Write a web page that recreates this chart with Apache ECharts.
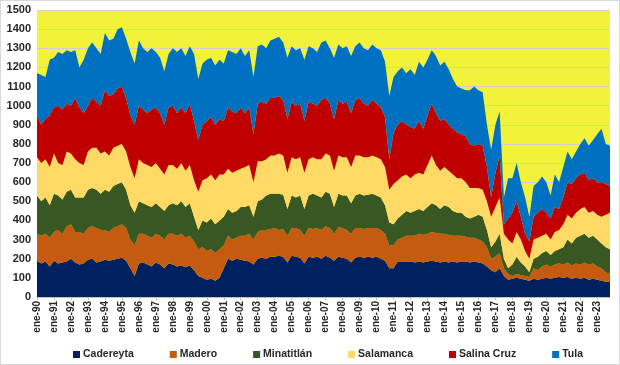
<!DOCTYPE html>
<html><head><meta charset="utf-8">
<script src="https://cdn.jsdelivr.net/npm/echarts@6/dist/echarts.min.js"></script>
<style>
html,body{margin:0;padding:0;background:#fff;}
#c{width:618px;height:363px;border:1px solid #d9d9d9;}
</style></head>
<body><div id="c"></div>
<script>
// quarterly categories: ene, abr, jul, oct of each year 1990-2023
const years = [90,91,92,93,94,95,96,97,98,99,0,1,2,3,4,5,6,7,8,9,10,11,12,13,14,15,16,17,18,19,20,21,22,23];
const months = ['ene','abr','jul','oct'];
const categories = [];
years.forEach(y => months.forEach(m => categories.push(m + '-' + String(y).padStart(2,'0'))));

const seriesNames = ['Cadereyta','Madero','Minatitlán','Salamanca','Salina Cruz','Tula'];

const cadereyta = [
190,175,185,160, 190,175,180,185, 200,180,170,175, 195,200,180,185, 195,190,195,200,
205,190,150,110, 175,180,170,160, 180,170,150,175, 170,160,165,155, 165,140,110,100,
90,95,85,100, 150,200,190,200, 195,190,185,170, 200,205,200,210, 210,215,210,180,
215,210,205,175, 210,205,210,200, 215,205,190,210, 205,200,180,205, 210,205,210,205,
210,200,190,150, 150,185,185,185, 185,180,185,180, 185,190,185,180, 185,180,185,180,
185,185,180,185, 180,175,160,140, 130,150,110,90, 95,100,95,90, 85,95,90,95,
100,95,100,105, 100,105,95,100, 95,100,90,95, 90,85,80,80];

const madero = [
140,145,145,150, 150,175,150,185, 180,160,170,155, 165,170,180,165, 155,150,165,170,
175,170,150,160, 155,150,150,150, 150,150,150,155, 160,160,165,155, 155,150,140,160,
150,155,145,150, 120,120,110,110, 125,130,145,130, 140,145,150,145, 150,135,145,140,
145,150,145,145, 150,150,150,150, 155,155,140,155, 155,150,150,155, 150,150,150,155,
150,150,140,120, 120,115,125,135, 135,140,145,145, 145,150,150,150, 145,145,135,140,
135,130,130,125, 120,115,100,60, 80,80,40,30, 15,20,20,20, 20,55,50,65,
70,65,70,70, 70,75,70,75, 75,80,80,80, 70,65,50,40];

const minatitlan = [
200,180,190,170, 200,180,180,180, 180,180,180,190, 200,200,200,190, 210,210,220,220,
220,200,180,170, 170,160,160,160, 160,150,150,150, 160,160,170,160, 170,130,100,140,
150,160,150,150, 150,140,140,140, 150,150,150,120, 160,160,180,185, 180,190,180,140,
170,160,180,140, 170,185,170,170, 180,180,140,175, 170,180,160,170, 180,175,175,180,
170,170,150,120, 110,110,120,130, 120,130,130,125, 140,150,145,130, 150,145,130,120,
120,105,100,110, 130,130,90,60, 80,100,50,30, 60,90,65,50, 25,50,70,70,
70,60,70,75, 90,120,115,135, 150,150,140,145, 140,130,130,130];

const salamanca = [
200,200,200,200, 210,170,180,210, 190,200,180,170, 200,210,220,210, 200,190,200,200,
200,200,200,180, 220,210,210,210, 210,200,190,210, 200,190,200,190, 200,190,200,210,
230,230,230,240, 220,210,210,210, 200,210,210,180, 210,200,190,200, 200,210,205,190,
200,200,200,190, 190,190,190,200, 200,200,190,200, 200,200,190,210, 200,200,195,200,
200,200,200,170, 210,200,200,190, 180,190,190,190, 220,250,210,200, 200,190,190,180,
180,180,160,150, 140,140,150,160, 180,190,130,150, 110,130,120,80, 70,100,100,90,
90,80,100,100, 120,130,130,130, 140,140,130,130, 130,140,170,190];

const salinaCruz = [
220,200,210,270, 240,300,290,250, 250,320,290,270, 240,260,240,250, 320,310,280,300,
300,280,270,280, 280,280,270,300, 290,290,260,300, 310,290,290,300, 320,310,270,290,
300,300,290,290, 280,320,320,300, 320,280,300,250, 300,310,290,300, 300,300,290,280,
290,280,280,270, 300,280,280,310, 290,270,270,290, 280,290,280,290, 300,280,270,290,
280,270,260,160, 270,290,290,260, 270,240,270,240, 260,270,270,260, 250,240,240,240,
230,240,230,220, 230,230,180,100, 180,220,50,110, 160,160,120,90, 90,120,130,140,
110,110,130,110, 140,170,180,180, 180,180,170,170, 170,180,160,140];

const tula = [
220,260,220,290, 260,280,290,280, 280,250,210,280, 300,290,280,270, 300,290,290,310,
310,310,330,320, 340,320,320,320, 290,290,280,280, 300,320,310,300, 300,350,320,320,
320,310,310,310, 300,300,310,310, 310,300,300,300, 300,300,290,300, 310,310,300,320,
290,290,290,320, 290,290,280,300, 300,290,320,290, 290,290,300,280, 290,290,290,290,
290,300,290,330, 290,280,280,270, 300,280,310,320, 290,280,300,290, 300,290,260,240,
240,240,280,310, 280,280,220,250, 250,230,140,210, 180,200,180,190, 130,160,160,170,
160,120,170,140, 160,160,130,140, 160,180,180,200, 250,280,210,210];

const seriesData = [cadereyta, madero, minatitlan, salamanca, salinaCruz, tula];
const colors = ['#002060','#C55A11','#385723','#FFD966','#C00000','#0070C0'];

const chart = echarts.init(document.getElementById('c'), null, {renderer:'canvas'});
const font = "'Liberation Sans', Arial, sans-serif";
chart.setOption({
  animation: false,
  textStyle: {fontFamily: font},
  grid: {left: 36, right: 9, top: 9, bottom: 67, show: true, backgroundColor: '#F2F23A', borderWidth: 0},
  legend: {
    data: seriesNames, left: 67, top: 343, itemWidth: 7, itemHeight: 7, itemGap: 36,
    icon: 'rect',
    textStyle: {fontFamily: font, fontWeight: 'bold', fontSize: 10.5, color: '#262626', padding: [0,0,0,-2]}
  },
  xAxis: {
    type: 'category', data: categories, boundaryGap: false,
    axisLine: {show: true, lineStyle: {color: '#bfbfbf'}},
    axisTick: {show: true, interval: 3, length: 3, lineStyle: {color: '#bfbfbf'}},
    axisLabel: {interval: 3, rotate: 90, fontFamily: font, fontWeight: 'bold', fontSize: 10, color: '#262626', margin: 4},
    splitLine: {show: false}
  },
  yAxis: {
    type: 'value', min: 0, max: 1500, interval: 100,
    axisLine: {show: false}, axisTick: {show: false},
    axisLabel: {fontFamily: font, fontWeight: 'bold', fontSize: 11, color: '#262626', margin: 6,
      formatter: v => String(v)},
    splitLine: {show: true, lineStyle: {color: '#d0d0d0', width: 1}}
  },
  series: seriesNames.map((n, i) => ({
    name: n, type: 'line', stack: 'total', data: seriesData[i],
    showSymbol: false, symbol: 'none', smooth: false,
    lineStyle: {width: 0}, areaStyle: {color: colors[i], opacity: 1},
    itemStyle: {color: colors[i]}
  }))
});
</script></body></html>
